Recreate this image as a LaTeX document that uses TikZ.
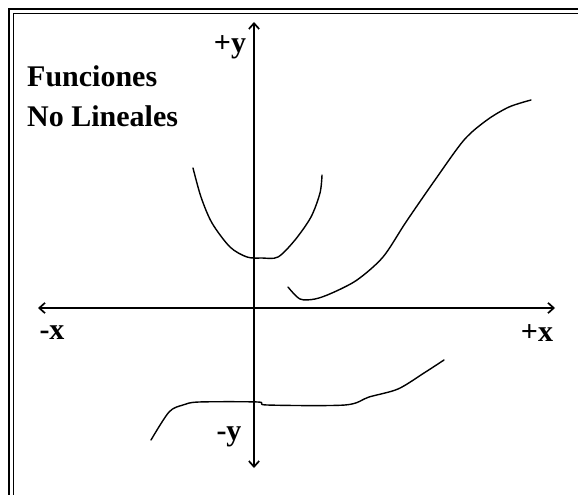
\documentclass[tikz,border=0pt]{standalone}
\usepackage{fontspec}
\setmainfont{Liberation Serif}
\usetikzlibrary{arrows.meta}
\tikzset{
axis/.style={{Straight Barb[length=2mm,width=3.6mm]}-{Straight Barb[length=2mm,width=3.6mm]},line width=1.7pt},
curve/.style={line width=1.4pt,line join=round,line cap=round},
lbl/.style={font=\bfseries\fontsize{30}{36}\selectfont,inner sep=0pt},
rule/.style={line width=#1}}

\begin{document}
\begin{tikzpicture}[x=1pt,y=-1pt]
\useasboundingbox (0,0) rectangle (578,495);
% double frame, top and left
\draw[rule=2pt] (9,495)--(9,9)--(578,9);
\draw[rule=1pt] (13.5,495)--(13.5,13.5)--(578,13.5);
% axes
\coordinate (xl) at (38,308);
\coordinate (xr) at (555,308);
\coordinate (yt) at (254,22);
\coordinate (yb) at (254,468);
\draw[axis] (xl)--(xr);
\draw[axis] (yb)--(yt);
\node[lbl] (py) at (230,47) {+y};
\node[lbl] (my) at (229,437) {-y};
\node[lbl] (mx) at (52,333) {-x};
\node[lbl] (px) at (537,333) {+x};
\node[lbl,anchor=west] (t1) at (27,76) {Funciones};
\node[lbl,anchor=west] (t2) at (27,116) {No Lineales};
% curves
\draw[curve] plot[smooth,tension=.5] coordinates {(193,168) (201,197) (212,223) (230,247) (247,257) (262,258) (278,257) (295,240) (311,217) (320,193) (322,175)};
\draw[curve] plot[smooth,tension=.5] coordinates {(288,287) (300,299) (315,299) (332,293) (357,280) (383,257) (406,222) (435,180) (464,140) (487,120) (509,107) (531,100)};
\draw[curve] plot[smooth,tension=.5] coordinates {(151,440) (169,412) (183,405) (199,402) (258,402) (267,405) (345,405) (369,397) (398,389) (424,373) (444,360)};
\end{tikzpicture}
\end{document}
